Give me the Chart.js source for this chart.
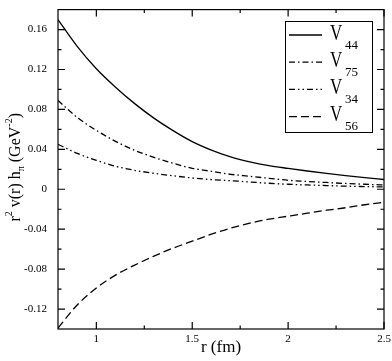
<!DOCTYPE html>
<html>
<head>
<meta charset="utf-8">
<script src="https://cdn.jsdelivr.net/npm/chart.js@4.4.1/dist/chart.umd.min.js"></script>
<style>
  body { margin: 0; background: #fff; }
  canvas { display: block; }
</style>
</head>
<body>
<canvas id="grafica" width="392" height="361"></canvas>
<script>
// Data
var radios = [0.8, 0.9, 1.0, 1.1, 1.2, 1.3, 1.4, 1.5, 1.6, 1.7, 1.8, 1.9, 2.0, 2.1, 2.2, 2.3, 2.4, 2.5];
var v44 = [0.170, 0.1432, 0.1208, 0.1023, 0.0858, 0.0713, 0.0588, 0.0478, 0.0393, 0.0325, 0.0275, 0.0237, 0.0209, 0.0183, 0.0159, 0.0137, 0.0117, 0.0098];
var v75 = [0.089, 0.072, 0.059, 0.048, 0.039, 0.032, 0.026, 0.021, 0.018, 0.015, 0.013, 0.011, 0.009, 0.0078, 0.0068, 0.0058, 0.005, 0.0043];
var v34 = [0.045, 0.036, 0.029, 0.023, 0.019, 0.016, 0.0135, 0.0113, 0.0097, 0.0086, 0.0073, 0.0060, 0.0050, 0.0043, 0.0037, 0.0031, 0.0027, 0.0023];
var v56 = [-0.139, -0.116, -0.099, -0.086, -0.076, -0.067, -0.059, -0.052, -0.045, -0.039, -0.034, -0.030, -0.027, -0.024, -0.021, -0.0185, -0.0155, -0.013];
var subindices = ['44', '75', '34', '56'];

// Tick values
var xMayores = [1, 1.5, 2, 2.5];
var xMenores = [1.25, 1.75, 2.25];
var yMayores = [-0.12, -0.08, -0.04, 0, 0.04, 0.08, 0.12, 0.16];
var yMenores = [-0.10, -0.06, -0.02, 0.02, 0.06, 0.10, 0.14];

var serif = '"Liberation Serif", "Times New Roman", serif';

function puntos(ys) {
    return radios.map(function(r, i) { return { x: r, y: ys[i] }; });
}

var estilos = [
    { dash: [] },
    { dash: [6, 3, 1.5, 3] },
    { dash: [6, 3, 1.5, 3, 1.5, 3] },
    { dash: [8, 4] }
];

var series = [v44, v75, v34, v56];
var datasets = series.map(function(s, i) {
    return {
        label: 'V' + subindices[i],
        sub: subindices[i],
        data: puntos(s),
        borderColor: '#000',
        borderWidth: 1.3,
        borderDash: estilos[i].dash,
        pointRadius: 0,
        cubicInterpolationMode: 'monotone',
        fill: false
    };
});

// Frame, inward ticks, x labels, axis titles and legend
var marco = {
    id: 'marco',
    afterDraw: function(chart) {
        var ctx = chart.ctx;
        var a = chart.chartArea;
        var sx = chart.scales.x, sy = chart.scales.y;
        ctx.save();
        ctx.strokeStyle = '#000';
        ctx.lineWidth = 1.2;
        ctx.setLineDash([]);
        ctx.strokeRect(a.left, a.top, a.right - a.left, a.bottom - a.top);

        function tickX(v, len) {
            var px = sx.getPixelForValue(v);
            ctx.beginPath();
            ctx.moveTo(px, a.bottom); ctx.lineTo(px, a.bottom - len);
            ctx.moveTo(px, a.top); ctx.lineTo(px, a.top + len);
            ctx.stroke();
        }
        function tickY(v, len) {
            var py = sy.getPixelForValue(v);
            ctx.beginPath();
            ctx.moveTo(a.left, py); ctx.lineTo(a.left + len, py);
            ctx.moveTo(a.right, py); ctx.lineTo(a.right - len, py);
            ctx.stroke();
        }
        xMayores.forEach(function(v) { tickX(v, 7); });
        xMenores.forEach(function(v) { tickX(v, 3.5); });
        yMayores.forEach(function(v) { tickY(v, 7); });
        yMenores.forEach(function(v) { tickY(v, 3.5); });

        // x tick labels
        ctx.fillStyle = '#000';
        ctx.font = '11px ' + serif;
        ctx.textAlign = 'center';
        ctx.textBaseline = 'middle';
        xMayores.forEach(function(v) {
            ctx.fillText(String(v), sx.getPixelForValue(v), a.bottom + 10);
        });

        // x title
        ctx.font = '17px ' + serif;
        ctx.textBaseline = 'alphabetic';
        ctx.fillText('r (fm)', (a.left + a.right) / 2, 352);

        // y title (rotated, with super/subscripts)
        var partes = [
            ['r', 16, 0], ['2', 10, -8], [' v(r) h', 16, 0], ['\u03c0', 10, 4],
            [' (GeV', 16, 0], ['-2', 10, -8], [')', 16, 0]
        ];
        ctx.textAlign = 'left';
        var total = 0;
        partes.forEach(function(p) {
            ctx.font = p[1] + 'px ' + serif;
            p.push(ctx.measureText(p[0]).width);
            total += p[3];
        });
        ctx.translate(20, (a.top + a.bottom) / 2 - 2);
        ctx.rotate(-Math.PI / 2);
        var cx = -total / 2;
        partes.forEach(function(p) {
            ctx.font = p[1] + 'px ' + serif;
            ctx.fillText(p[0], cx, p[2]);
            cx += p[3];
        });
        ctx.setTransform(1, 0, 0, 1, 0, 0);

        // legend
        ctx.lineWidth = 1;
        ctx.strokeRect(285.5, 21.5, 87, 111);
        chart.data.datasets.forEach(function(ds, i) {
            var y = 35 + i * 27.2;
            ctx.lineWidth = ds.borderWidth;
            ctx.setLineDash(ds.borderDash);
            ctx.beginPath();
            ctx.moveTo(289, y); ctx.lineTo(322, y);
            ctx.stroke();
            ctx.setLineDash([]);
            ctx.save();
            ctx.translate(330, y + 4.5);
            ctx.scale(1, 1.4);
            ctx.font = '17px ' + serif;
            ctx.fillText('V', 0, 0);
            ctx.restore();
            ctx.font = '13px ' + serif;
            ctx.fillText(ds.sub, 345, y + 13.5);
        });
        ctx.restore();
    }
};

function crear() {
    var ctx1 = document.getElementById('grafica').getContext('2d');
    var grafica = new Chart(ctx1, {
        type: 'line',
        data: { datasets: datasets },
        options: {
            responsive: false,
            animation: false,
            devicePixelRatio: 1,
            layout: { padding: { top: 2, right: 8, left: 0, bottom: 0 } },
            plugins: {
                legend: { display: false },
                tooltip: { enabled: false }
            },
            scales: {
                x: {
                    type: 'linear',
                    min: 0.8,
                    max: 2.5,
                    grid: { display: false },
                    border: { display: false },
                    afterFit: function(scale) { scale.height = 32; },
                    ticks: { display: false }
                },
                y: {
                    type: 'linear',
                    min: -0.14,
                    max: 0.18,
                    grid: { display: false },
                    border: { display: false },
                    afterBuildTicks: function(axis) {
                        axis.ticks = yMayores.map(function(v) { return { value: v }; });
                    },
                    afterFit: function(scale) { scale.width = 58; },
                    ticks: {
                        padding: 3,
                        color: '#000',
                        font: { family: serif, size: 11 },
                        callback: function(v) { return v === 0 ? '0' : v.toFixed(2); }
                    }
                }
            }
        },
        plugins: [marco]
    });
}

Promise.all([
    document.fonts.load('17px "Liberation Serif"'),
    document.fonts.load('11px "Liberation Serif"')
]).then(crear, crear);
</script>
</body>
</html>
